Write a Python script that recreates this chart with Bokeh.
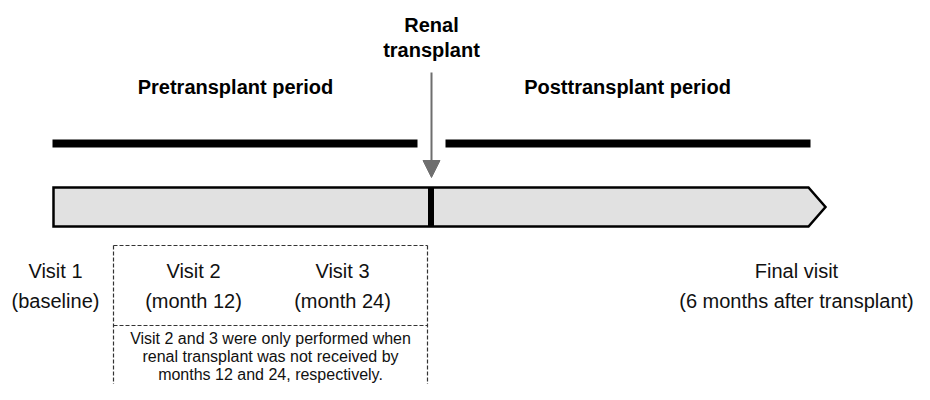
from bokeh.plotting import figure
from bokeh.models import Range1d, Arrow, NormalHead
from bokeh.core.properties import value
from bokeh.embed import file_html
from bokeh.resources import INLINE

# ---- diagram data (screen-like coordinates, y downwards) ----
period_labels = ["Pretransplant period", "Posttransplant period"]
period_x = [235, 627]
period_y = [86, 86]

event_lines = ["Renal", "transplant"]
event_x = [431, 431]
event_y = [24, 49]

visit_titles = ["Visit 1", "Visit 2", "Visit 3", "Final visit"]
visit_subtitles = ["(baseline)", "(month 12)", "(month 24)", "(6 months after transplant)"]
visit_x = [55, 193, 342, 796]
visit_title_y = [270, 270, 270, 270]
visit_sub_y = [300, 300, 300, 300]

note_lines = ["Visit 2 and 3 were only performed when",
              "renal transplant was not received by",
              "months 12 and 24, respectively."]
note_x = [270, 270, 270]
note_y = [338, 356, 374]

period_bar_x0 = [52, 445]
period_bar_x1 = [417, 810]
period_bar_y = [143, 143]

timeline_x = [53, 808, 825, 808, 53]
timeline_y = [187, 187, 206.5, 226, 226]
transplant_x = 430.5

dash_x0 = [113, 427, 113, 113]
dash_y0 = [245, 245, 245, 325]
dash_x1 = [113, 427, 427, 427]
dash_y1 = [400, 400, 245, 325]

FONT = value("Liberation Sans")

p = figure(width=914, height=384, output_backend="svg", toolbar_location=None,
           x_range=Range1d(0, 914), y_range=Range1d(384, 0), min_border=0)
p.axis.visible = False
p.grid.visible = False
p.outline_line_color = None
p.background_fill_color = "white"
p.border_fill_color = "white"

# period bars
p.segment(x0=period_bar_x0, y0=period_bar_y, x1=period_bar_x1, y1=period_bar_y,
          line_color="black", line_width=8, line_cap="butt")

# timeline box arrow
p.patch(x=timeline_x, y=timeline_y, fill_color="#e1e1e1", line_color="black",
        line_width=2.5, line_join="miter")
p.segment(x0=[transplant_x], y0=[timeline_y[0]], x1=[transplant_x], y1=[timeline_y[3]],
          line_color="black", line_width=6, line_cap="butt")

# transplant arrow
p.add_layout(Arrow(end=NormalHead(size=17, fill_color="#6e6e6e", line_color="#6e6e6e", line_width=1),
                   x_start=431, y_start=72, x_end=431, y_end=177,
                   line_color="#6e6e6e", line_width=2))

# dashed box
p.segment(x0=dash_x0, y0=dash_y0, x1=dash_x1, y1=dash_y1,
          line_color="#333333", line_width=1.2, line_dash="4 2")

# texts
p.text(x=period_x, y=period_y, text=period_labels, text_font=FONT, text_font_size="20px",
       text_font_style="bold", text_align="center", text_baseline="alphabetic", text_color="black")
p.text(x=event_x, y=event_y, text=event_lines, text_font=FONT, text_font_size="20px",
       text_font_style="bold", text_align="center", text_baseline="alphabetic", text_color="black")
p.text(x=visit_x, y=visit_title_y, text=visit_titles, text_font=FONT, text_font_size="20px",
       text_align="center", text_baseline="alphabetic", text_color="#111111")
p.text(x=visit_x, y=visit_sub_y, text=visit_subtitles, text_font=FONT, text_font_size="20px",
       text_align="center", text_baseline="alphabetic", text_color="#111111")
p.text(x=note_x, y=note_y, text=note_lines, text_font=FONT, text_font_size="16px",
       text_align="center", text_baseline="alphabetic", text_color="#111111")

open("out.html", "w").write(file_html(p, INLINE))
